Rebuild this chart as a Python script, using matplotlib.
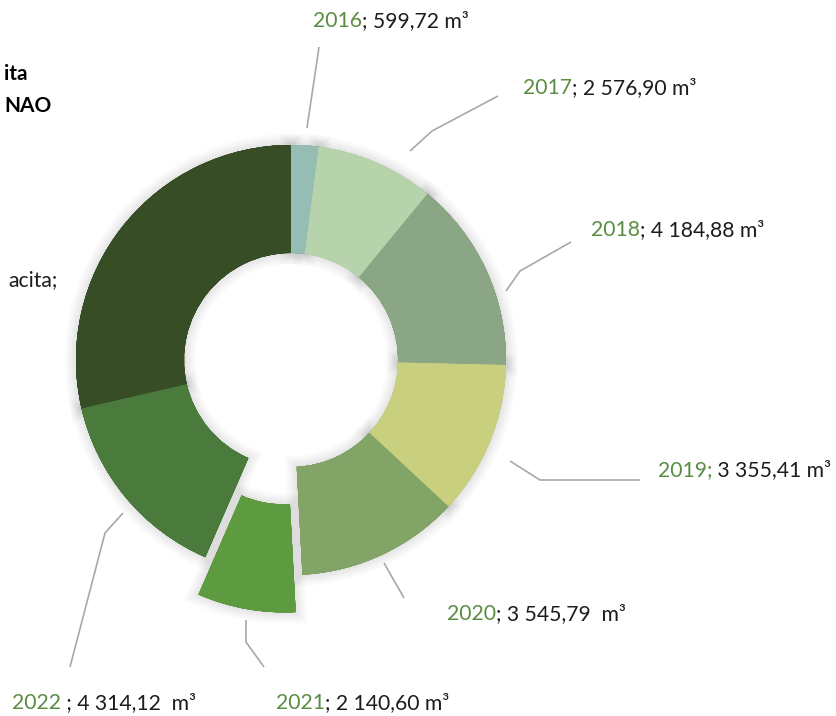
import matplotlib
matplotlib.use('Agg')
import matplotlib.pyplot as plt
import matplotlib.patheffects as pe

# ---------------- data ----------------
years = ['2016', '2017', '2018', '2019', '2020', '2021', '2022']
volumes = [599.72, 2576.90, 4184.88, 3355.41, 3545.79, 2140.60, 4314.12]
value_texts = ['599,72 m³', '2 576,90 m³', '4 184,88 m³', '3 355,41 m³',
               '3 545,79  m³', '2 140,60 m³', '4 314,12  m³']
year_seps = ['; ', '; ', '; ', '; ', '; ', '; ', ' ; ']
other_label = 'acita;'
other_value = 8300.0
title_lines = ['ita', 'NAO']

colors = ['#95bdb4', '#b6d3ac', '#8ba684', '#c8d07f', '#82a466',
          '#5e9b40', '#4a7b3c', '#374d26']
explode_px = [0, 0, 0, 0, 0, 38, 0, 0]

# label layout (pixel coordinates of text left edge / vertical centre)
label_pos = [(313, 21), (523, 88), (591, 230), (658, 470),
             (447, 614), (276, 703), (12, 703)]
leaders = [
    [(307, 128), (319, 47)],
    [(410, 151), (432, 131), (498, 96)],
    [(506, 291), (520, 271), (571, 242)],
    [(510, 461), (540, 480), (640, 480)],
    [(384, 563), (404, 598)],
    [(246, 620), (246, 642), (264, 667)],
    [(123, 513), (105, 533), (70, 667)],
]

W, H = 837, 716
CX, CY, R, WIDTH = 291, 360, 215, 108

plt.rcParams['font.family'] = ['Lato', 'DejaVu Sans']

fig = plt.figure(figsize=(W / 100, H / 100), dpi=100)
ax = fig.add_axes([0, 0, 1, 1])

values = volumes + [other_value]

# soft shadow layer
shadow_fx = [pe.withStroke(linewidth=lw, foreground='#000000', alpha=0.018)
             for lw in (16, 12, 9, 6, 3)]
wedges_s, _ = ax.pie(values, colors=colors, center=(CX, CY), radius=R,
                     startangle=270, counterclock=True, explode=explode_px,
                     wedgeprops=dict(width=WIDTH, linewidth=0))
for w in wedges_s:
    w.set_path_effects(shadow_fx)
    w.set_zorder(1)

wedges, _ = ax.pie(values, colors=colors, center=(CX, CY), radius=R,
                   startangle=270, counterclock=True, explode=explode_px,
                   wedgeprops=dict(width=WIDTH, linewidth=0))
for w in wedges:
    w.set_zorder(2)

ax.set_xlim(0, W)
ax.set_ylim(H, 0)
ax.set_aspect('equal')
ax.axis('off')

GREEN = '#5a8c42'
BLACK = '#1c1c1c'
FS = 15.2

for (x, y), yr, sep, val, pts in zip(label_pos, years, year_seps, value_texts, leaders):
    xs = [p[0] for p in pts]
    ys = [p[1] for p in pts]
    ax.plot(xs, ys, color='#a8a8a8', lw=1.2, solid_capstyle='butt', zorder=3)
    t1 = ax.text(x, y, yr + (sep.rstrip() if yr == '2019' else ''), color=GREEN,
                 fontsize=FS, ha='left', va='center', zorder=4)
    rest = (' ' if yr == '2019' else sep) + val
    ax.annotate(rest, xy=(1, 0.5), xycoords=t1, color=BLACK, fontsize=FS,
                ha='left', va='center', zorder=4)

ax.text(58, 280, other_label, color=BLACK, fontsize=FS, ha='right', va='center')
ax.text(4, 74, title_lines[0], color='black', fontsize=15, fontweight='bold',
        ha='left', va='center')
ax.text(4, 106, title_lines[1], color='black', fontsize=15, fontweight='bold',
        ha='left', va='center')

fig.savefig('out.png', dpi=100, facecolor='white')
